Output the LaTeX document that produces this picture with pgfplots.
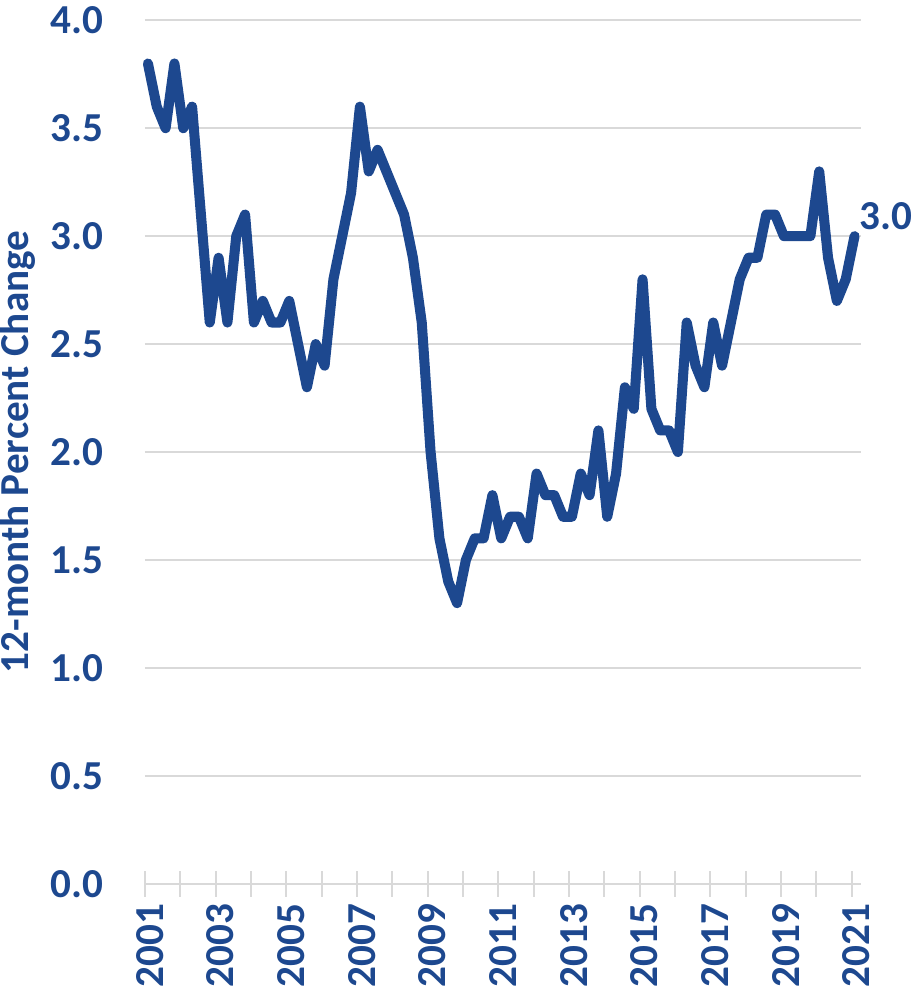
\documentclass[border=0pt]{standalone}
\usepackage{pgfplots}
\pgfplotsset{compat=1.18}
\usepackage{pgfplotstable}
\usepackage{fontspec}
\setmainfont{Carlito}
\definecolor{navy}{RGB}{29,72,143}
\definecolor{gridgray}{RGB}{217,217,217}

% quarterly values, q = quarters since 2001Q1
\pgfplotstableread{
q v
0 3.8
1 3.6
2 3.5
3 3.8
4 3.5
5 3.6
6 3.1
7 2.6
8 2.9
9 2.6
10 3.0
11 3.1
12 2.6
13 2.7
14 2.6
15 2.6
16 2.7
17 2.5
18 2.3
19 2.5
20 2.4
21 2.8
22 3.0
23 3.2
24 3.6
25 3.3
26 3.4
27 3.3
28 3.2
29 3.1
30 2.9
31 2.6
32 2.0
33 1.6
34 1.4
35 1.3
36 1.5
37 1.6
38 1.6
39 1.8
40 1.6
41 1.7
42 1.7
43 1.6
44 1.9
45 1.8
46 1.8
47 1.7
48 1.7
49 1.9
50 1.8
51 2.1
52 1.7
53 1.9
54 2.3
55 2.2
56 2.8
57 2.2
58 2.1
59 2.1
60 2.0
61 2.6
62 2.4
63 2.3
64 2.6
65 2.4
66 2.6
67 2.8
68 2.9
69 2.9
70 3.1
71 3.1
72 3.0
73 3.0
74 3.0
75 3.0
76 3.3
77 2.9
78 2.7
79 2.8
80 3.0
}\cpi

\begin{document}
\begin{tikzpicture}
\begin{axis}[
    scale only axis,
    width=356.5pt, height=430pt,
    xmin=2001, xmax=2021.26,
    ymin=0, ymax=4,
    axis x line*=bottom,
    axis y line*=left,
    x axis line style={gridgray, line width=1pt, -},
    y axis line style={draw=none},
    ytick={0,0.5,...,4},
    xtick={2001,2003,...,2021},
    minor xtick={2002,2004,...,2020},
    xtick align=center,
    major tick length=13pt,
    minor tick length=13pt,
    xtick style={gridgray, line width=1pt},
    minor tick style={gridgray, line width=1pt},
    ytick style={draw=none},
    ymajorgrids,
    major grid style={gridgray, line width=1pt},
    /pgf/number format/assume math mode=true,
    xticklabel style={rotate=90, anchor=east, text=navy, yshift=-2.5pt,
        font=\fontsize{20.5}{20.5}\selectfont\bfseries,
        /pgf/number format/1000 sep={}},
    yticklabel style={text=navy, font=\fontsize{20.5}{20.5}\selectfont\bfseries,
        /pgf/number format/fixed, /pgf/number format/fixed zerofill,
        /pgf/number format/precision=1, xshift=-17pt},
    ylabel={12-month Percent Change},
    ylabel style={text=navy, font=\fontsize{20.5}{20.5}\selectfont\bfseries,
        inner sep=0pt, yshift=4pt},
    clip=false,
]
\addplot[navy, line width=5pt, line join=round, line cap=round]
    table[x expr=2001.085+0.25*\thisrow{q}, y=v] {\cpi};
\node[anchor=south west, text=navy, font=\fontsize{20.5}{20.5}\selectfont\bfseries,
      inner sep=0pt, xshift=1pt, yshift=3pt] at (axis cs:2021.17,3.0) {3.0};
\end{axis}
\end{tikzpicture}
\end{document}
